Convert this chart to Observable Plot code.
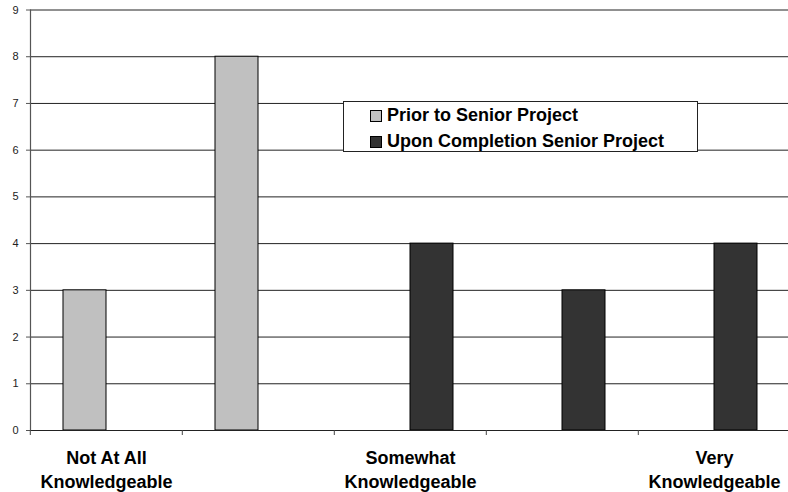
<!DOCTYPE html>
<html>
<head>
<meta charset="utf-8">
<script src="https://cdn.jsdelivr.net/npm/d3@7"></script>
<script src="https://cdn.jsdelivr.net/npm/@observablehq/plot@0.6"></script>
<style>
  body { margin: 0; background: #fff; }
  #wrap { position: relative; width: 788px; height: 492px; font-family: "Liberation Sans", Arial, sans-serif; }
  #legend { position: absolute; left: 343px; top: 101px; width: 353px; height: 49px; border: 1px solid #222; background: #fff; }
  .item { position: absolute; left: 26px; display: flex; align-items: center; font-weight: bold; font-size: 18px; color: #000; white-space: nowrap; }
  .sw { width: 10px; height: 10px; border: 1px solid #000; margin-right: 5px; }
</style>
</head>
<body>
<div id="wrap"><div id="legend"></div></div>
<script>
const categories = [1, 2, 3, 4, 5];
const categoryLabels = ["Not At All\nKnowledgeable", "", "Somewhat\nKnowledgeable", "", "Very\nKnowledgeable"];
const series = ["Prior to Senior Project", "Upon Completion Senior Project"];
const prior = [3, 8, 0, 0, 0];
const completion = [0, 0, 4, 3, 4];
const yTicks = [0, 1, 2, 3, 4, 5, 6, 7, 8, 9];
const colors = ["#c0c0c0", "#333333"];

const rows = [];
categories.forEach((c, i) => {
  rows.push({cat: c, series: series[0], value: prior[i]});
  rows.push({cat: c, series: series[1], value: completion[i]});
});
const bars = rows.filter(d => d.value > 0);

const fxRange = [29, 791];
const halfStep = (fxRange[1] - fxRange[0]) / categories.length / 2;

const chart = Plot.plot({
  width: 788,
  height: 492,
  marginLeft: 29,
  marginRight: 0,
  marginTop: 9.5,
  marginBottom: 62,
  style: {fontFamily: '"Liberation Sans", Arial, sans-serif', background: "#fff"},
  fx: {domain: categories, range: fxRange, padding: 0, label: null},
  x: {domain: series, paddingInner: 0, paddingOuter: 0.75, axis: null},
  y: {domain: [0, 9], label: null},
  color: {domain: series, range: colors},
  marks: [
    Plot.ruleY(yTicks, {stroke: "#222", strokeWidth: 1}),
    Plot.barY(bars, {fx: "cat", x: "series", y: "value", fill: "series", stroke: "#000", strokeWidth: 1}),
    Plot.ruleY([0], {stroke: "#222", strokeWidth: 1.2}),
    Plot.frame({anchor: "left", facetAnchor: "left", stroke: "#555", strokeWidth: 1.2}),
    Plot.axisY(yTicks, {tickSize: 4, tickPadding: 8, fontSize: 11, fill: "#222", stroke: "#555", label: null}),
    Plot.axisFx({anchor: "bottom", tickSize: 5, tickFormat: () => "", dx: -halfStep, stroke: "#444", label: null}),
    Plot.axisFx({anchor: "bottom", tickSize: 0, tickPadding: 17, tickFormat: d => categoryLabels[categories.indexOf(d)],
      fontSize: 18, fontWeight: "bold", lineHeight: 1.3, fill: "#000", label: null})
  ]
});
document.getElementById("wrap").prepend(chart);

const legend = document.getElementById("legend");
series.forEach((s, i) => {
  const it = document.createElement("div");
  it.className = "item";
  it.style.top = (i === 0 ? 3 : 29) + "px";
  const sw = document.createElement("span");
  sw.className = "sw";
  sw.style.background = colors[i];
  const t = document.createElement("span");
  t.textContent = s;
  it.append(sw, t);
  legend.append(it);
});
</script>
</body>
</html>
